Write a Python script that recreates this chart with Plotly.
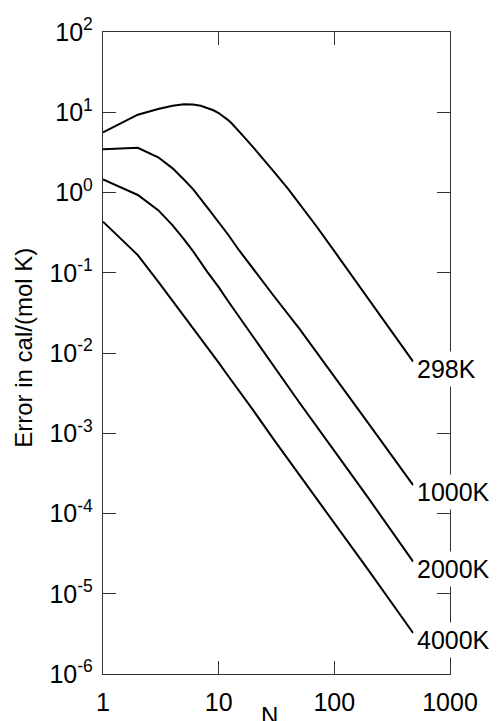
import math
import plotly.graph_objects as go

# ---- data ----
N = [1, 2, 3, 4, 5, 6, 8, 10, 12, 15, 20, 30, 50, 100, 200, 480]
N_298K = [1, 2, 3, 4, 5, 6, 7, 8, 9, 10, 11, 12, 13, 14, 15, 17, 20, 25, 30, 40, 50, 70,
          100, 200, 480]

err_298K = [5.62, 9.33, 10.96, 12.02, 12.59, 12.50, 12.02, 11.35, 10.59, 9.77, 8.91, 8.04,
            7.24, 6.49, 5.82, 4.73, 3.63, 2.51, 1.82, 1.10, 0.724, 0.380, 0.186, 0.0457,
            0.0078]
err_1000K = [3.45, 3.61, 2.75, 2.00, 1.45, 1.10, 0.646, 0.427, 0.302, 0.191, 0.110, 0.0513,
             0.0200, 0.00513, 0.00129, 0.000226]
err_2000K = [1.46, 0.931, 0.603, 0.389, 0.263, 0.186, 0.102, 0.0661, 0.0447, 0.0282, 0.0158,
             0.00676, 0.00240, 0.000603, 0.000151, 2.51e-5]
err_4000K = [0.433, 0.166, 0.0776, 0.0447, 0.0292, 0.0204, 0.0117, 0.00759, 0.00525, 0.00339,
             0.00191, 0.000832, 0.000302, 7.59e-5, 1.91e-5, 3.24e-6]

series_names = ["298K", "1000K", "2000K", "4000K"]
series_x = [N_298K, N, N, N]
series_values = [err_298K, err_1000K, err_2000K, err_4000K]

x_tickvals = [1, 10, 100, 1000]
x_ticktext = ["1", "10", "100", "1000"]
y_tickvals = [1e-6, 1e-5, 1e-4, 1e-3, 1e-2, 1e-1, 1e0, 1e1, 1e2]
y_ticktext = ["10<sup>-6</sup>", "10<sup>-5</sup>", "10<sup>-4</sup>", "10<sup>-3</sup>",
              "10<sup>-2</sup>", "10<sup>-1</sup>", "10<sup>0</sup>", "10<sup>1</sup>",
              "10<sup>2</sup>"]

x_title = "N"
y_title = "Error in cal/(mol K)"

FONT = "Liberation Sans, Arial, Helvetica, sans-serif"

fig = go.Figure()
for name, xs, vals in zip(series_names, series_x, series_values):
    fig.add_trace(go.Scatter(x=xs, y=vals, mode="lines", name=name,
                             line=dict(color="black", width=2), showlegend=False))
    # annotation coordinates on log axes are given in log10 units
    fig.add_annotation(x=math.log10(xs[-1]), y=math.log10(vals[-1]), xref="x", yref="y",
                       text=name, showarrow=False, xanchor="left", yanchor="middle",
                       xshift=0, yshift=-7, bgcolor="white", borderpad=3,
                       font=dict(family=FONT, size=25, color="black"))

axis_common = dict(type="log", showgrid=False, zeroline=False, showline=True,
                   linecolor="#333333", linewidth=1.3, mirror="ticks",
                   ticks="inside", ticklen=13, tickwidth=1.3, tickcolor="#333333",
                   automargin=False,
                   tickfont=dict(family=FONT, size=25, color="black"))

fig.update_xaxes(range=[0, 3], tickvals=x_tickvals, ticktext=x_ticktext,
                 ticklabelstandoff=6, **axis_common)
fig.update_yaxes(range=[-6, 2], tickvals=y_tickvals, ticktext=y_ticktext,
                 ticklabelstandoff=4, **axis_common)

fig.add_annotation(text=x_title, xref="paper", yref="paper", x=0.481, y=-0.040,
                   xanchor="center", yanchor="top", showarrow=False,
                   font=dict(family=FONT, size=24, color="black"))
fig.add_annotation(text=y_title, xref="paper", yref="paper", x=-0.228, y=0.508,
                   xanchor="center", yanchor="middle", textangle=-90, showarrow=False,
                   font=dict(family=FONT, size=24, color="black"))

# the page body adds an 8px margin, so the figure is 8px smaller on each side
fig.update_layout(width=489, height=713,
                  margin=dict(l=95, r=47, t=24, b=47, autoexpand=False),
                  paper_bgcolor="white", plot_bgcolor="white",
                  font=dict(family=FONT, color="black"))

fig.write_html("out.html")
